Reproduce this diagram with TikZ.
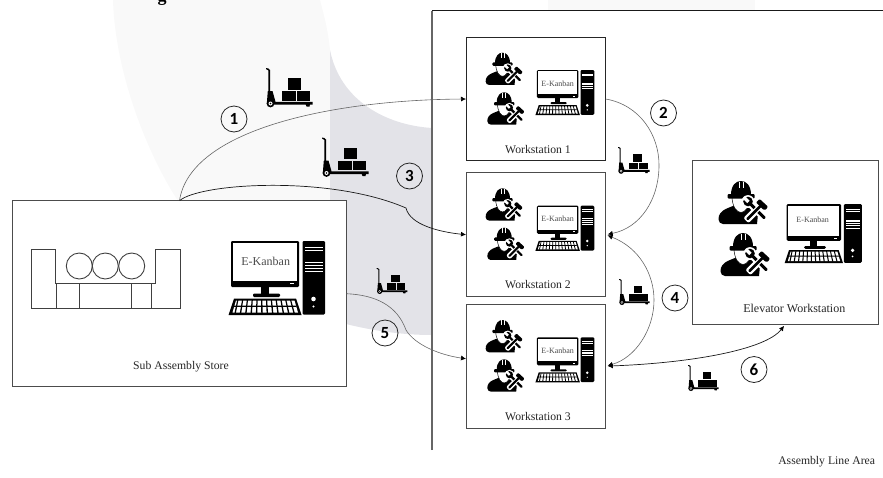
\documentclass[tikz,border=0pt]{standalone}
\usepackage{fontspec}
\setmainfont{Liberation Serif}
\newfontfamily\numfont{Carlito}
\usetikzlibrary{calc,arrows.meta}
\definecolor{wmlight}{HTML}{F9F9F9}
\definecolor{wmdark}{HTML}{E3E3E8}
\tikzset{
  boxnode/.style={draw=#1,line width=1pt,fill=white,inner sep=0,outer sep=0,anchor=north west},
  boxnode/.default={black!70},
  lab/.style={font=\fontsize{11.7}{13}\selectfont,text=black!85,inner sep=0},
  ekan/.style={font=\fontsize{#1}{10}\selectfont,text=black!70,inner sep=0},
  num/.style={draw=black!85,circle,line width=.8pt,minimum size=26pt,inner sep=0,
     font=\numfont\bfseries\fontsize{17}{17}\selectfont},
  thinlink/.style={draw=black!60,line width=.6pt,-{Latex[length=5pt,width=5pt,black]}},
  darklink/.style={draw=black!90,line width=.7pt,-{Latex[length=5pt,width=5pt,black]}},
  pics/truck/.style={code={
    % handle and mast
    \fill (0,0) -- (2.4,.5) -- (4,2) -- (4,23) -- (6.5,23) -- (9.5,33.8) -- (46.5,33.8) -- (46.5,36.5) -- (8,36.5) -- (0.8,36) -- (1.8,23) -- (2.4,23) -- (2.4,2.4) -- (0,1.1) -- cycle;
    \fill (4.5,35.5) circle (3.9);
    \fill[white] (4.5,35.5) circle (2);
    \fill (4.5,35.5) circle (.9);
    \fill (39.5,36) -- (44,36) -- (43.5,38.5) -- (40.5,38.5) -- cycle;
    % load
    \fill (22,10) rectangle (35,21.6);
    \fill (15.5,23) rectangle (29.8,32.8);
    \fill (30.8,23) rectangle (43.5,32.8);
  }},
  pics/computer/.style={code={
    \fill[rounded corners=1.2] (2,0) rectangle (70,46);
    \fill[white] (4.2,2.2) rectangle (67.8,39.5);
    \fill[white] (61,42) rectangle (65,43);
    \fill (31.5,45) rectangle (40,53);
    \fill[rounded corners=1.2] (24,52.5) rectangle (51,56);
    \fill (5,57.5) -- (67,57.5) -- (72.5,74) -- (-.5,74) -- cycle;
    \fill[white] (7,59.5) -- (65.5,59.5) -- (69,71.5) -- (3.5,71.5) -- cycle;
    \foreach \k in {0,1,...,11}{
      \fill ({8.2+\k*4.8},59) -- ({9.4+\k*4.8},59) -- ({6.9+\k*5.35},72) -- ({5.5+\k*5.35},72) -- cycle;
    }
    \fill (5,64.6) -- (67,64.6) -- (67.5,65.8) -- (4.5,65.8) -- cycle;
    \fill[rounded corners=1.2] (73.5,0) rectangle (96,73.5);
    \fill[white] (76,6) rectangle (93.5,6.9);
    \fill[white] (76,9) rectangle (93.5,9.9);
    \foreach \yy in {20.5,23.5,26.5,29.5}{\fill[white] (76,\yy) rectangle (93.5,\yy+1.5);}
    \fill[white] (84.5,58) circle (2.3);
    \fill[white] (84.5,65.5) circle (1.2);
  }},
  pics/worker/.style={code={
    \fill (4,43) .. controls (-1.5,43) and (-1.5,35) .. (1.5,32) .. controls (4,28.5) and (9,27) .. (14,25)
       -- (30,25) .. controls (35,27) and (38,29) .. (39,33) -- (38,43) -- cycle;
    \filldraw[fill=white,draw=black,line width=.5pt] (13,15) .. controls (13,26) and (18,31.5) .. (22,31.5) .. controls (26,31.5) and (31,26) .. (31,15) -- cycle;
    \fill (12,14) .. controls (12,4) and (17,0) .. (22,0) .. controls (27,0) and (32,4) .. (32,14) -- cycle;
    \fill[rounded corners=1] (8.5,13) rectangle (35.5,17.5);
    \fill[white] (19.6,.5) rectangle (20.3,7);
    \fill[white] (23.7,.5) rectangle (24.4,7);
    \begin{scope}[shift={(37.5,29)},rotate=45]
      \fill[white,rounded corners=2] (-15,-3.6) rectangle (12,3.6);
      \fill[white,rounded corners=1] (3,-7.5) rectangle (12.5,7.5);
    \end{scope}
    \begin{scope}[shift={(37.5,29)},rotate=-45]
      \fill[white,rounded corners=2] (-14.5,-3.6) rectangle (13,3.6);
      \fill[white] (-12,0) circle (6.4);
    \end{scope}
    \begin{scope}[shift={(37.5,29)},rotate=-45]
      \fill (-12,0) circle (4.8);
      \fill[white] (-18,-1.6) rectangle (-11.5,1.6);
      \fill[rounded corners=1] (-9,-1.5) rectangle (12,1.5);
    \end{scope}
    \begin{scope}[shift={(37.5,29)},rotate=45]
      \fill[white] (-3,-2.5) rectangle (3,2.5);
      \fill[rounded corners=1] (-13.5,-1.4) rectangle (6,1.4);
      \fill[rounded corners=.8] (5,-5.5) -- (10,-5.5) -- (10.5,5.5) -- (7,6.5) -- (5,4.5) -- cycle;
    \end{scope}
  }},
}
\begin{document}
\begin{tikzpicture}[x=1pt,y=-1pt]
\clip (0,0) rectangle (883,477);
% watermark
\fill[wmlight] (113,0) .. controls (115,70) and (145,150) .. (178,201) -- (330,201) -- (330,50) .. controls (328,30) and (324,15) .. (320,0) -- cycle;
\fill[wmlight] (548,0) rectangle (755,10);
\fill[wmdark] (330,50) .. controls (340,100) and (385,125) .. (432,128) -- (432,335) .. controls (400,335) and (370,330) .. (346,324) -- (330,324) -- cycle;
% cropped heading
\node[font=\bfseries\fontsize{18}{18}\selectfont,anchor=base,inner sep=0] (head) at (162,1) {g};
% assembly area
\coordinate (areaBL) at (432,450);
\coordinate (areaTL) at (432,10.5);
\coordinate (areaTR) at (883,10.5);
\draw[black!60,line width=1.3pt] (areaBL) -- (areaTL);
\draw[black!90,line width=.9pt] (areaTL) -- (areaTR);
% boxes
\node[boxnode,minimum width=334pt,minimum height=186pt] (store) at (12.5,200.7) {};
\node[boxnode=black!85,minimum width=139.7pt,minimum height=123.4pt] (ws1) at (466,37.3) {};
\node[boxnode,minimum width=139.7pt,minimum height=124pt] (ws2) at (466,172.7) {};
\node[boxnode,minimum width=139.7pt,minimum height=123.7pt] (ws3) at (466,304.3) {};
\node[boxnode,minimum width=185.3pt,minimum height=164.3pt] (elev) at (692.7,160) {};
% connectors
\coordinate (ws3in) at ($(ws3.north west)!0.44!(ws3.south west)$);
\draw[thinlink] (store.north) .. controls (190,130) and (330,100) .. (ws1.west);
\draw[darklink] (store.north) .. controls (200,183) and (330,175) .. (406,208) .. controls (410,225) and (440,232) .. (ws2.west);
\draw[thinlink] (store.east) .. controls (375,295) and (397,305) .. (406,330) .. controls (415,345) and (440,355) .. (ws3in);
\draw[thinlink,shorten >=2pt] (ws1.east) .. controls (640,105) and (659,135) .. (659,165) .. controls (659,200) and (640,228) .. (ws2.east);
\draw[thinlink,{Latex[length=5pt,width=5pt,black]}-{Latex[length=5pt,width=5pt,black]},shorten >=2pt,shorten <=2pt] (ws2.east) .. controls (640,248) and (654,275) .. (654,300) .. controls (654,330) and (635,358) .. (ws3.east);
\draw[darklink,{Latex[length=5pt,width=5pt,black]}-{Latex[length=5pt,width=5pt,black]},shorten <=2pt,shorten >=2pt] (ws3.east) .. controls (690,363) and (765,350) .. (elev.south);
% store content
\draw[black!75,line width=.9pt] (31,308) -- (31,249) -- (55.7,249) -- (55.7,283.7) -- (155.7,283.7) -- (155.7,249) -- (180,249) -- (180,308) -- cycle;
\foreach \xx in {56.7,79.3,131.3,151.3}{\draw[black!75,line width=.9pt] (\xx,283.7) -- (\xx,308);}
\foreach \xx in {79.3,105.3,131.7}{\draw[black!75,line width=.9pt] (\xx,266) circle (13);}
% computers
\pic at (229,241) {computer};
\pic[scale=.61] at (535.7,70) {computer};
\pic[scale=.61] at (535.7,205.7) {computer};
\pic[scale=.61] at (535.7,337.3) {computer};
\pic[scale=.8] at (785,204) {computer};
\node[ekan=12] (ek0) at (265.7,261.7) {E-Kanban};
\node[ekan=8] (ek1) at (557.7,83.3) {E-Kanban};
\node[ekan=8] (ek2) at (557.7,218.3) {E-Kanban};
\node[ekan=8] (ek3) at (557.7,350.7) {E-Kanban};
\node[ekan=8] (ek4) at (812.7,219.3) {E-Kanban};
% workers
\pic[scale=.75] at (486,52.7) {worker};
\pic[scale=.75] at (487.7,92.3) {worker};
\pic[scale=.75] at (486,188.3) {worker};
\pic[scale=.75] at (487.7,227.7) {worker};
\pic[scale=.75] at (486,320) {worker};
\pic[scale=.75] at (487.7,359.3) {worker};
\pic at (719,181) {worker};
\pic at (721,233) {worker};
% trucks
\pic at (266,68) {truck};
\pic at (322,137.5) {truck};
\pic[scale=.66] at (376.7,268) {truck};
\pic[scale=.68] at (618,147) {truck};
\pic[scale=.66] at (619,279) {truck};
\pic[scale=.66] at (688,365) {truck};
% numbers
\node[num] (n1) at (234,119) {1};
\node[num] (n2) at (663.5,113) {2};
\node[num] (n3) at (409.5,176) {3};
\node[num] (n4) at (675,298) {4};
\node[num] (n5) at (385,333) {5};
\node[num] (n6) at (754,369.5) {6};
% labels
\node[lab] (l1) at (538,149.3) {Workstation 1};
\node[lab] (l2) at (538,284.3) {Workstation 2};
\node[lab] (l3) at (538,416.7) {Workstation 3};
\node[lab,font=\fontsize{12}{13}\selectfont] (l4) at (794.3,308.3) {Elevator Workstation};
\node[lab] (l5) at (181,366.7) {Sub Assembly Store};
\node[lab] (l6) at (826.7,461.7) {Assembly Line Area};
\end{tikzpicture}
\end{document}
